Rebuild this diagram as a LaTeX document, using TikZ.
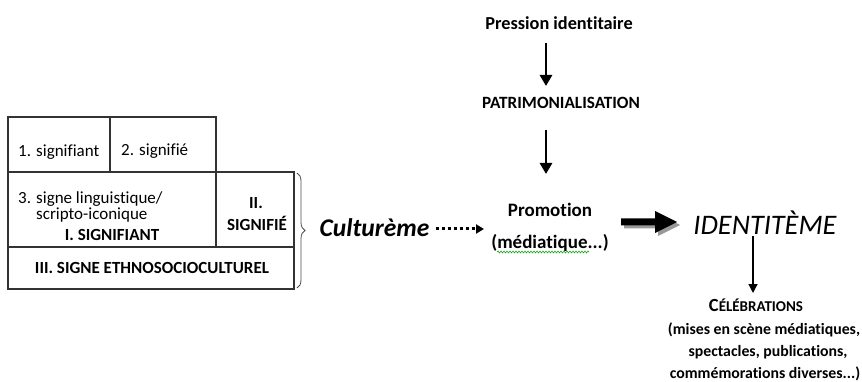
\documentclass[tikz,border=0pt]{standalone}
\usepackage{fontspec}
\setmainfont{Carlito}[Ligatures=NoCommon]
\usetikzlibrary{arrows.meta,decorations.pathreplacing,decorations.pathmorphing}
\newcommand{\fs}[1]{\fontsize{#1}{#1}\selectfont}
\begin{document}
\begin{tikzpicture}[x=1pt,y=-1pt,
  tbl/.style={draw=black!80,line width=1.3pt},
  lbl/.style={inner sep=0pt,anchor=center,font=\fs{17}},
  blbl/.style={inner sep=0pt,anchor=center,font=\fs{17}\bfseries},
  listline/.style={inner sep=0pt,anchor=center,font=\fs{15.8}\bfseries},
  thickarrow/.style={line width=2.8pt,-{Triangle[length=11pt,width=12pt]}},
  thinarrow/.style={line width=1.2pt,-{Triangle[length=9pt,width=9pt]}}]
\useasboundingbox (0,0) rectangle (862,382);
% table
\draw[tbl] (8,117) rectangle (110,172);
\draw[tbl] (110,117) rectangle (216,172);
\draw[tbl] (8,172) rectangle (216,247);
\draw[tbl] (216,172) rectangle (294,247);
\draw[tbl] (8,247) rectangle (294,289);
\node[lbl,anchor=base west] (t1) at (18,157) {1. signifiant};
\node[lbl,anchor=base west] (t2) at (121,156) {2. signifié};
\node[lbl,anchor=west] (t3a) at (18,199) {3. signe linguistique/};
\node[lbl,anchor=west] (t3b) at (36,215) {scripto-iconique};
\node[blbl] (sig1) at (112,235) {I. SIGNIFIANT};
\node[blbl] (sig2a) at (256,203) {II.};
\node[blbl] (sig2b) at (257,223) {SIGNIFIÉ};
\node[blbl] (sig3) at (152,268) {III. SIGNE ETHNOSOCIOCULTUREL};
% brace
\draw[black!70,line width=0.8pt,decorate,decoration={brace,amplitude=8pt}] (297,173) -- (297,288);
% culturème
\node[inner sep=0pt,font=\fs{25.5}\bfseries\itshape] (cult) at (374.5,228) {Culturème};
\node[inner sep=0pt,font=\fs{19}\bfseries] (promo) at (550,210) {Promotion};
\node[inner sep=0pt,font=\fs{19}\bfseries] (media) at (550,243) {(médiatique...)};
\draw[green!60!black,line width=0.5pt,decorate,decoration={snake,amplitude=1pt,segment length=3pt}] (497,252) -- (589,252);
\coordinate (dotend) at (484,229);
\draw[line width=3pt,dash pattern=on 3pt off 3pt,-{Triangle[length=8pt,width=9pt]}] ([xshift=6pt,yshift=-1pt]cult.east) -- (dotend);
% top chain
\node[inner sep=0pt,font=\fs{18.3}\bfseries] (pres) at (559,23) {Pression identitaire};
\node[inner sep=0pt,font=\fs{17.2}\bfseries] (patr) at (561,103) {PATRIMONIALISATION};
\coordinate (a1s) at (546,43); \coordinate (a1e) at (546,86);
\coordinate (a2s) at (546,130); \coordinate (a2e) at (546,174);
\draw[thickarrow] (a1s) -- (a1e);
\draw[thickarrow] (a2s) -- (a2e);
% big arrow with shadow
\fill[black!40] (624,221.5) -- (658,221.5) -- (658,214) -- (680,225) -- (658,236) -- (658,228.5) -- (624,228.5) -- cycle;
\fill[black] (621,218.5) -- (655,218.5) -- (655,211) -- (677,222) -- (655,233) -- (655,225.5) -- (621,225.5) -- cycle;
\node[inner sep=0pt,font=\fs{28.3}\itshape] (ident) at (765,223) {IDENTITÈME};
\coordinate (a3s) at (753,236);
\coordinate (a3e) at (753,293);
\draw[thinarrow] (a3s) -- (a3e);
\node[inner sep=0pt,font=\bfseries] (celeb) at (756,305) {\fs{18.5}C\fs{15}ÉLÉBRATIONS};
\node[listline] (l1) at (764,330) {(mises en scène médiatiques,};
\node[listline] (l2) at (768,352) {spectacles, publications,};
\node[listline] (l3) at (765,374) {commémorations diverses...)};
\end{tikzpicture}
\end{document}
